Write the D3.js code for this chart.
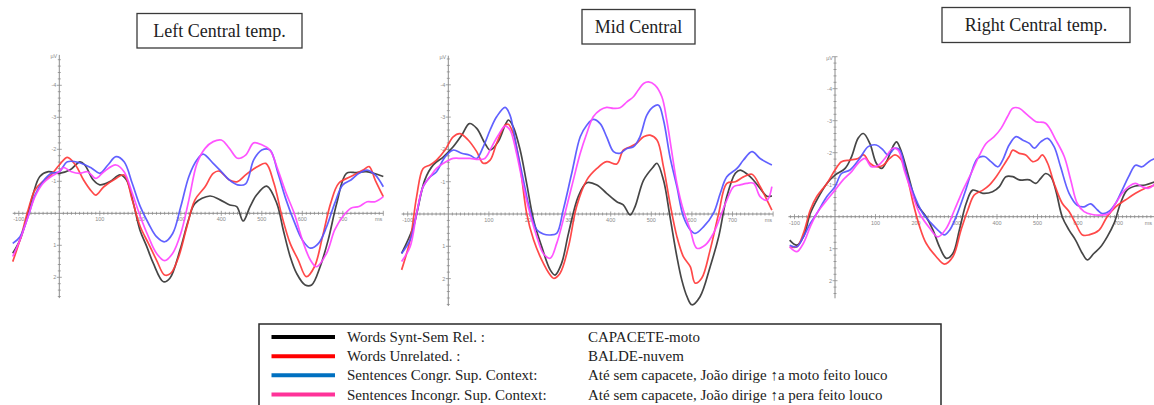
<!DOCTYPE html>
<html>
<head>
<meta charset="utf-8">
<script src="https://cdn.jsdelivr.net/npm/d3@7"></script>
<style>
  html, body { margin: 0; padding: 0; background: #fff; }
  svg { display: block; }
</style>
</head>
<body>
<svg id="chart" width="1154" height="405"></svg>
<script>
// ---------- labels ----------
const panelTitles = ["Left Central temp.", "Mid Central", "Right Central temp."];
const conditionNames = [
  "Words Synt-Sem Rel. :",
  "Words Unrelated. :",
  "Sentences Congr. Sup. Context:",
  "Sentences Incongr. Sup. Context:"
];
const conditionExamples = [
  "CAPACETE-moto",
  "BALDE-nuvem",
  "Até sem capacete, João dirige \u2191a moto feito louco",
  "Até sem capacete, João dirige \u2191a pera feito louco"
];
const xTickLabels = [-100, 100, 200, 300, 400, 500, 600, 700];
const yTickLabels = [-4, -3, -2, -1, 1, 2];

// ---------- grand averages, [ms, µV] (negative plotted upward) ----------
// Left Central temp.
const leftSyntSem = [[-115,1.25],[-97,0.83],[-77,0],[-64,-0.63],[-48,-1.15],[-27,-1.30],[0,-1.25],[26,-1.35],[51,-1.61],[63,-1.51],[84,-1.04],[100,-0.89],[125,-0.99],[150,-1.20],[166,-1.04],[183,-0.31],[199,0.52],[216,1.04],[232,1.56],[257,2.14],[273,2.03],[298,1.15],[319,0.21],[335,-0.31],[372,-0.54],[397,-0.42],[421,-0.26],[438,-0.21],[454,0.24],[471,-0.21],[487,-0.57],[512,-0.85],[537,-0.31],[553,0.52],[570,1.35],[586,1.88],[607,2.24],[623,2.24],[644,1.67],[664,0.83],[685,-0.31],[709,-1.25],[734,-1.27],[758,-1.30],[800,-1.15]];
const leftUnrelated = [[-115,1.51],[-97,0.83],[-77,-0.10],[-60,-0.73],[-40,-1.0],[-20,-1.2],[0,-1.51],[20,-1.75],[40,-1.51],[60,-1.04],[80,-0.68],[90,-0.57],[110,-0.83],[140,-1.09],[160,-1.20],[180,-0.42],[200,0.42],[220,0.94],[240,1.46],[260,1.93],[275,1.88],[295,1.35],[315,0.42],[335,-0.42],[360,-0.83],[380,-1.25],[395,-1.32],[420,-1.04],[440,-0.99],[460,-1.20],[490,-1.46],[510,-1.56],[530,-0.94],[550,0.10],[570,0.94],[590,1.46],[610,1.98],[630,1.67],[650,0.73],[670,-0.31],[690,-0.94],[720,-1.15],[750,-1.35],[765,-1.46],[780,-1.04],[800,-0.52]];
const leftCongr = [[-115,0.94],[-97,0.73],[-77,0.10],[-60,-0.57],[-40,-1.0],[-20,-1.25],[0,-1.30],[20,-1.61],[50,-1.58],[80,-1.41],[100,-1.25],[120,-1.51],[140,-1.77],[160,-1.61],[180,-0.94],[200,-0.21],[220,0.31],[240,0.73],[260,0.89],[280,0.63],[300,-0.21],[320,-1.15],[340,-1.67],[355,-1.85],[380,-1.56],[400,-1.30],[420,-1.04],[440,-0.89],[460,-0.92],[480,-1.67],[500,-1.98],[520,-1.98],[540,-1.25],[560,-0.42],[580,0.26],[600,0.83],[620,1.09],[640,0.94],[660,0.42],[680,-0.31],[700,-0.89],[720,-1.04],[740,-1.25],[760,-1.35],[780,-1.20],[800,-0.83]];
const leftIncongr = [[-115,1.35],[-97,0.83],[-77,0.10],[-60,-0.52],[-40,-0.94],[-20,-1.15],[0,-1.30],[10,-1.43],[30,-1.30],[50,-1.25],[70,-1.30],[90,-1.09],[110,-1.30],[140,-1.51],[160,-1.30],[180,-0.63],[200,0.10],[220,0.73],[240,1.25],[260,1.48],[280,1.25],[300,0.63],[320,-0.42],[340,-1.56],[360,-2.03],[380,-2.24],[400,-2.29],[420,-2.03],[440,-1.72],[460,-1.82],[480,-2.20],[500,-2.14],[520,-1.98],[540,-1.35],[560,-0.63],[580,0],[600,0.83],[620,1.46],[635,1.67],[660,1.25],[680,0.52],[700,0.10],[720,-0.16],[740,-0.21],[760,-0.36],[780,-0.36],[800,-0.52]];

// Mid Central
const midSyntSem = [[-115,1.22],[-86,0.39],[-58,-1.05],[-37,-1.52],[-12,-1.77],[12,-2.08],[33,-2.44],[52,-2.80],[70,-2.65],[90,-2.19],[103,-1.98],[123,-2.24],[140,-2.75],[148,-2.91],[160,-2.70],[177,-1.98],[193,-0.95],[210,0.19],[230,1.01],[251,1.73],[263,1.89],[279,1.53],[296,0.60],[320,-0.54],[341,-0.97],[366,-0.90],[390,-0.64],[415,-0.38],[431,-0.28],[448,0.03],[460,-0.23],[481,-1.05],[505,-1.46],[514,-1.57],[530,-1.05],[546,0.08],[563,1.32],[575,2.04],[588,2.56],[600,2.81],[620,2.56],[645,1.63],[666,0.70],[686,-0.54],[707,-1.26],[719,-1.36],[744,-1.15],[768,-0.79],[785,-0.55],[797,-0.56]];
const midUnrelated = [[-115,1.73],[-94,0.80],[-78,-0.54],[-62,-1.41],[-45,-1.52],[-29,-1.67],[-8,-1.98],[12,-2.39],[29,-2.49],[49,-2.29],[70,-1.93],[86,-1.57],[103,-1.67],[119,-2.19],[140,-2.75],[148,-2.78],[160,-2.49],[177,-1.46],[193,-0.02],[210,0.80],[230,1.42],[251,1.89],[259,1.99],[275,1.84],[296,1.01],[316,-0.23],[341,-1.05],[366,-1.41],[390,-1.62],[415,-1.55],[431,-1.98],[448,-2.08],[464,-2.19],[481,-2.39],[497,-2.44],[514,-2.29],[530,-1.46],[546,-0.33],[563,0.70],[579,1.32],[596,1.63],[608,2.14],[624,1.99],[645,1.11],[666,-0.02],[686,-0.95],[707,-1.00],[727,-1.15],[748,-1.23],[768,-0.85],[785,-0.43],[797,-0.12]];
const midCongr = [[-115,1.22],[-94,0.80],[-78,-0.02],[-62,-0.85],[-45,-1.15],[-29,-1.31],[-8,-1.77],[12,-1.98],[33,-1.88],[53,-1.82],[70,-1.72],[86,-2.08],[103,-2.60],[119,-3.01],[140,-3.30],[152,-3.06],[168,-2.08],[185,-1.05],[201,-0.12],[218,0.49],[234,0.62],[251,0.65],[267,0.60],[283,-0.12],[304,-1.26],[325,-2.39],[341,-2.75],[357,-2.93],[374,-2.80],[390,-2.39],[407,-1.93],[423,-1.88],[440,-2.03],[456,-2.08],[472,-2.39],[489,-3.06],[505,-3.32],[518,-3.37],[530,-2.91],[546,-1.77],[563,-0.85],[579,0.08],[596,0.49],[608,0.60],[629,0.39],[653,-0.02],[670,-0.64],[686,-1.15],[711,-1.41],[727,-1.67],[748,-1.93],[768,-1.72],[797,-1.52]];
const midIncongr = [[-115,1.47],[-94,1.01],[-78,-0.02],[-62,-0.85],[-45,-1.15],[-29,-1.41],[-12,-1.57],[12,-1.72],[33,-1.72],[53,-1.72],[74,-1.69],[90,-1.72],[107,-2.08],[123,-2.44],[140,-2.72],[152,-2.60],[168,-1.88],[185,-0.85],[201,-0.02],[218,0.70],[234,1.22],[251,1.37],[267,0.91],[283,0.19],[304,-0.85],[325,-1.88],[341,-2.49],[357,-3.01],[374,-3.22],[390,-3.30],[407,-3.27],[423,-3.29],[440,-3.47],[456,-3.63],[468,-3.84],[481,-4.04],[493,-4.09],[509,-3.99],[526,-3.63],[538,-2.91],[551,-1.88],[563,-0.95],[579,-0.12],[596,0.49],[612,1.06],[633,0.96],[653,0.60],[670,0.08],[686,-0.43],[703,-0.85],[719,-0.90],[735,-0.95],[752,-0.95],[768,-0.54],[785,-0.43],[797,-0.85]];

// Right Central temp.
const rightSyntSem = [[-112,0.73],[-94,0.89],[-78,0.63],[-61,-0.10],[-45,-0.52],[-20,-1.04],[0,-1.30],[25,-1.51],[41,-1.88],[57,-2.45],[70,-2.60],[86,-2.29],[102,-1.67],[115,-1.51],[127,-1.72],[143,-2.19],[152,-2.34],[164,-2.03],[184,-1.15],[201,-0.42],[225,0],[242,0.42],[258,0.94],[275,1.30],[291,1.15],[307,0.42],[324,-0.42],[340,-0.83],[365,-0.73],[389,-0.78],[406,-0.94],[422,-1.25],[439,-1.25],[455,-1.15],[480,-1.15],[496,-1.04],[508,-1.20],[520,-1.35],[533,-1.25],[545,-0.83],[561,0],[578,0.42],[594,0.73],[611,1.15],[623,1.35],[639,1.15],[656,0.94],[672,0.63],[689,0.21],[705,-0.42],[721,-0.83],[742,-0.96],[766,-0.99],[790,-1.09]];
const rightUnrelated = [[-112,0.94],[-94,0.94],[-78,0.52],[-61,-0.21],[-45,-0.63],[-20,-1.04],[0,-1.46],[16,-1.72],[37,-1.77],[57,-1.82],[71,-1.93],[86,-1.67],[102,-1.56],[119,-1.61],[135,-1.82],[148,-1.93],[164,-1.77],[180,-1.15],[193,-0.42],[209,0.31],[225,0.83],[250,1.25],[270,1.48],[291,1.25],[311,0.42],[328,-0.21],[344,-0.68],[365,-0.83],[381,-0.99],[398,-1.25],[414,-1.56],[430,-1.88],[439,-2.08],[455,-1.98],[471,-1.93],[488,-1.72],[500,-1.77],[512,-1.93],[525,-1.67],[541,-1.04],[561,-0.42],[578,-0.16],[594,0.21],[611,0.57],[627,0.57],[652,0.42],[672,0],[693,-0.31],[717,-0.52],[742,-0.73],[766,-0.89],[790,-0.99]];
const rightCongr = [[-112,0.89],[-94,0.94],[-78,0.63],[-61,0.21],[-45,-0.10],[-20,-0.63],[0,-0.94],[16,-1.35],[37,-1.46],[61,-1.82],[82,-2.19],[102,-2.24],[119,-2.08],[131,-1.93],[148,-2.14],[160,-2.08],[176,-1.35],[197,-0.63],[217,-0.10],[238,0.21],[254,0.42],[270,0.57],[283,0.42],[299,0],[320,-0.73],[336,-1.35],[352,-1.82],[369,-1.88],[385,-1.72],[402,-1.56],[414,-1.77],[430,-2.24],[447,-2.50],[463,-2.40],[480,-2.29],[492,-2.14],[508,-2.34],[525,-2.45],[541,-2.19],[557,-1.56],[578,-0.73],[598,-0.36],[615,-0.31],[631,-0.40],[648,-0.21],[660,-0.10],[676,-0.16],[693,-0.42],[709,-0.83],[725,-1.25],[742,-1.61],[758,-1.56],[775,-1.72],[790,-1.82]];
const rightIncongr = [[-112,0.94],[-94,1.09],[-78,0.83],[-61,0.31],[-45,-0.10],[-20,-0.52],[0,-0.83],[20,-1.15],[41,-1.41],[57,-1.67],[74,-1.82],[90,-1.56],[107,-1.61],[123,-1.82],[143,-2.14],[156,-2.08],[172,-1.41],[193,-0.63],[209,-0.10],[234,0.36],[254,0.63],[275,0.36],[295,-0.21],[316,-0.83],[336,-1.35],[357,-1.93],[373,-2.29],[393,-2.50],[410,-2.76],[426,-3.13],[439,-3.39],[455,-3.39],[475,-3.18],[496,-2.97],[520,-2.92],[545,-2.40],[566,-1.88],[582,-1.15],[598,-0.42],[615,-0.16],[635,-0.07],[656,-0.05],[676,-0.10],[693,-0.42],[709,-0.73],[725,-0.94],[742,-1.04],[758,-0.94],[775,-0.89],[790,-1.04]];

// ---------- styling ----------
const traceColors  = ["#363636", "#ff3a3a", "#5454ff", "#ff45ff"];
const legendColors = ["#000000", "#ff0000", "#0070c0", "#ff3399"];

// Panel geometry: origin of the (0 ms, 0 µV) point and pixel scale per unit
const panels = [
  { title: panelTitles[0], series: [leftSyntSem, leftUnrelated, leftCongr, leftIncongr],
    x0: 59.3, y0: 213.3, pxMs: 0.405, pxUv: 32.0, tMin: -115, tMax: 800, vTop: -4.95, vBottom: 2.65,
    box: { x: 137, y: 13.5, w: 165, h: 34.5 } },
  { title: panelTitles[1], series: [midSyntSem, midUnrelated, midCongr, midIncongr],
    x0: 448.3, y0: 214.0, pxMs: 0.406, pxUv: 32.3, tMin: -115, tMax: 800, vTop: -4.9, vBottom: 2.85,
    box: { x: 582, y: 9.5, w: 113, h: 34.5 } },
  { title: panelTitles[2], series: [rightSyntSem, rightUnrelated, rightCongr, rightIncongr],
    x0: 835.0, y0: 216.7, pxMs: 0.405, pxUv: 32.0, tMin: -115, tMax: 800, vTop: -5.0, vBottom: 2.55,
    box: { x: 942, y: 7.5, w: 188, h: 35 } }
];

const width = 1154;
const svg = d3.select("#chart");
svg.append("rect").attr("width", width).attr("height", 405).attr("fill", "#fff");

const axisColor = "#8c8c8c";
const labelColor = "#8a8a8a";

panels.forEach(p => {
  const x = d3.scaleLinear().domain([0, 100]).range([p.x0, p.x0 + 100 * p.pxMs]);
  const y = d3.scaleLinear().domain([0, 1]).range([p.y0, p.y0 + p.pxUv]);
  const g = svg.append("g");

  // x axis (time)
  g.append("line")
    .attr("x1", x(p.tMin)).attr("x2", x(p.tMax))
    .attr("y1", y(0)).attr("y2", y(0))
    .attr("stroke", axisColor).attr("stroke-width", 1);
  const xMinor = d3.range(-110, p.tMax + 1, 10).filter(t => t !== 0);
  g.selectAll(".xt").data(xMinor).join("line")
    .attr("x1", d => x(d)).attr("x2", d => x(d))
    .attr("y1", d => y(0) - (d % 100 === 0 ? 2.5 : 1.5))
    .attr("y2", d => y(0) + (d % 100 === 0 ? 2.5 : 1.5))
    .attr("stroke", axisColor).attr("stroke-width", 0.8);
  g.selectAll(".xl").data(xTickLabels).join("text")
    .attr("x", d => x(d)).attr("y", y(0) + 8)
    .attr("text-anchor", "middle")
    .attr("font-family", "Liberation Sans, Arial, sans-serif")
    .attr("font-size", 5.5).attr("fill", labelColor)
    .text(d => d);
  // unit label at the right end of the time axis, kept inside the page
  g.append("text")
    .attr("x", Math.min(x(p.tMax) - 1, width - 2)).attr("y", y(0) + 8)
    .attr("text-anchor", "end")
    .attr("font-family", "Liberation Sans, Arial, sans-serif")
    .attr("font-size", 5.5).attr("fill", labelColor)
    .text("ms");

  // y axis (amplitude, negative up)
  g.append("line")
    .attr("x1", x(0)).attr("x2", x(0))
    .attr("y1", y(p.vTop)).attr("y2", y(p.vBottom))
    .attr("stroke", axisColor).attr("stroke-width", 1);
  const yMinor = d3.range(Math.ceil(p.vTop * 5), Math.floor(p.vBottom * 5) + 1)
    .map(k => k / 5).filter(v => Math.abs(v) > 1e-6);
  g.selectAll(".yt").data(yMinor).join("line")
    .attr("x1", d => x(0) - (Math.abs(d % 1) < 1e-6 ? 2.5 : 1.5))
    .attr("x2", d => x(0) + (Math.abs(d % 1) < 1e-6 ? 2.5 : 1.5))
    .attr("y1", d => y(d)).attr("y2", d => y(d))
    .attr("stroke", axisColor).attr("stroke-width", 0.8);
  g.selectAll(".yl").data(yTickLabels).join("text")
    .attr("x", x(0) - 3).attr("y", d => y(d) + 2)
    .attr("text-anchor", "end")
    .attr("font-family", "Liberation Sans, Arial, sans-serif")
    .attr("font-size", 5.5).attr("fill", labelColor)
    .text(d => d);
  g.append("text")
    .attr("x", x(0) - 2).attr("y", y(p.vTop) + 3)
    .attr("text-anchor", "end")
    .attr("font-family", "Liberation Sans, Arial, sans-serif")
    .attr("font-size", 5.5).attr("fill", labelColor)
    .text("\u00b5V");

  // traces
  const line = d3.line()
    .x(d => x(d[0]))
    .y(d => y(d[1]))
    .curve(d3.curveCatmullRom.alpha(0.5));
  p.series.forEach((s, i) => {
    g.append("path")
      .attr("d", line(s))
      .attr("fill", "none")
      .attr("stroke", traceColors[i])
      .attr("stroke-width", 1.7)
      .attr("stroke-linejoin", "round")
      .attr("stroke-opacity", 0.92);
  });

  // title box
  g.append("rect")
    .attr("x", p.box.x).attr("y", p.box.y)
    .attr("width", p.box.w).attr("height", p.box.h)
    .attr("fill", "#fff").attr("stroke", "#3a3a3a").attr("stroke-width", 1.3);
  g.append("text")
    .attr("x", p.box.x + p.box.w / 2).attr("y", p.box.y + p.box.h / 2 + 6)
    .attr("text-anchor", "middle")
    .attr("font-family", "Liberation Serif, Times New Roman, serif")
    .attr("font-size", 18).attr("fill", "#222")
    .text(p.title);
});

// ---------- legend ----------
const lg = svg.append("g");
lg.append("rect")
  .attr("x", 259).attr("y", 324).attr("width", 682).attr("height", 100)
  .attr("fill", "#fff").attr("stroke", "#2a2a2a").attr("stroke-width", 1.5);
const rowY = d3.scalePoint().domain(d3.range(conditionNames.length)).range([337, 394.5]);
conditionNames.forEach((name, i) => {
  lg.append("line")
    .attr("x1", 271.5).attr("x2", 335)
    .attr("y1", rowY(i)).attr("y2", rowY(i))
    .attr("stroke", legendColors[i]).attr("stroke-width", 4);
  lg.append("text")
    .attr("x", 347).attr("y", rowY(i) + 5)
    .attr("font-family", "Liberation Serif, Times New Roman, serif")
    .attr("font-size", 15).attr("fill", "#222")
    .text(name);
  lg.append("text")
    .attr("x", 588).attr("y", rowY(i) + 5)
    .attr("font-family", "Liberation Serif, Times New Roman, serif")
    .attr("font-size", 15).attr("fill", "#222")
    .text(conditionExamples[i]);
});
</script>
</body>
</html>
